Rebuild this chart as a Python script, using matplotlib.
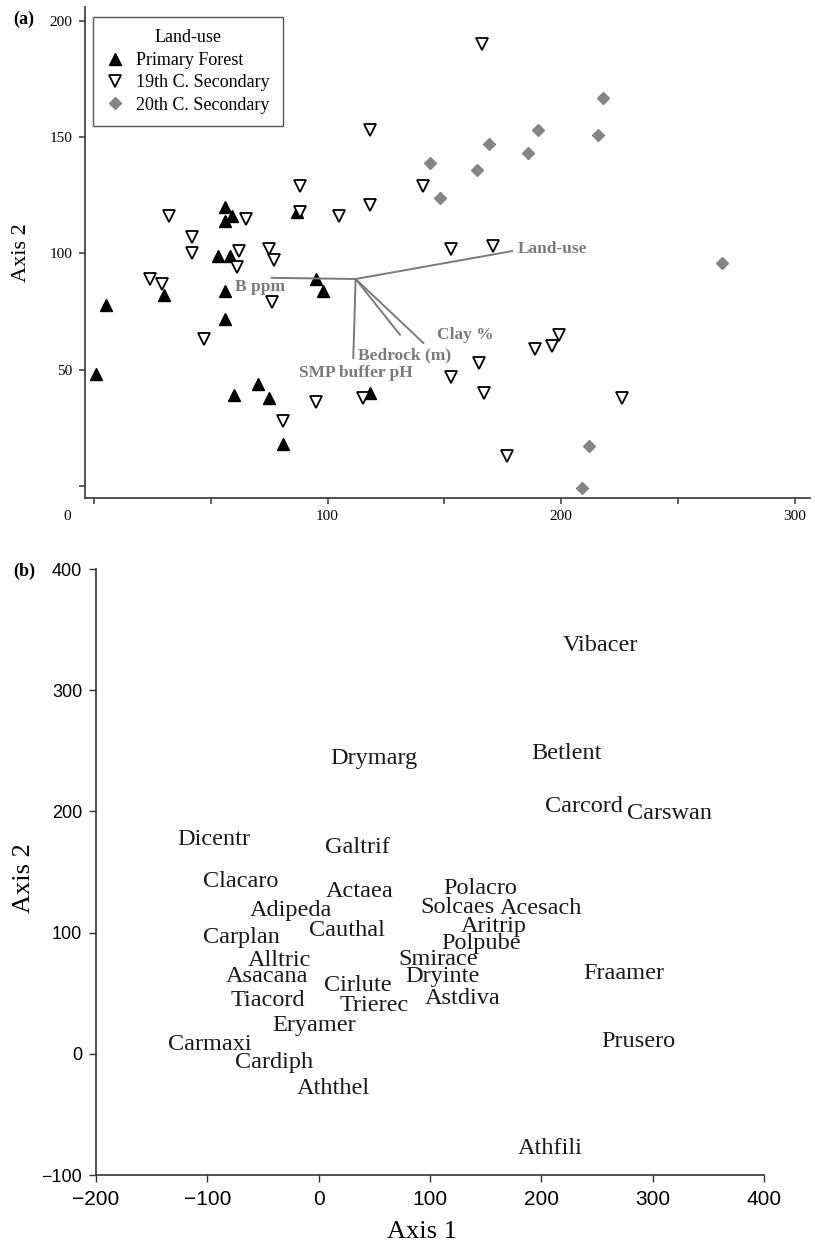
import matplotlib
matplotlib.use('Agg')
import matplotlib.pyplot as plt
import matplotlib.transforms as mtransforms

SERIF = 'Liberation Serif'
SANS = 'Liberation Sans'
plt.rcParams['font.family'] = SERIF

# ---- panel (a): site scores by land-use ----
pf_x = [1, 5, 30, 53, 58, 56, 56, 95, 98, 60, 70, 75, 81, 118, 56, 59, 56, 87]
pf_y = [48, 78, 82, 99, 99, 84, 72, 89, 84, 39, 44, 38, 18, 40, 120, 116, 114, 118]

s19_x = [118, 88, 88, 105, 118, 32, 65, 42, 42, 62, 75, 61, 77, 24, 29, 76, 47,
         95, 115, 81, 166, 141, 153, 171, 199, 196, 189, 165, 153, 167, 226, 177]
s19_y = [153, 129, 118, 116, 121, 116, 115, 107, 100, 101, 102, 94, 97, 89, 87, 79, 63,
         36, 38, 28, 190, 129, 102, 103, 65, 60, 59, 53, 47, 40, 38, 13]

s20_x = [218, 216, 190, 186, 169, 164, 144, 148, 269, 212, 209]
s20_y = [167, 151, 153, 143, 147, 136, 139, 124, 96, 17, -1]

# joint plot vectors (environmental variables)
vec_origin = (112, 89)
vec_names = ['Land-use', 'B ppm', 'SMP buffer pH', 'Bedrock (m)', 'Clay %']
vec_x = [179, 76, 111, 131, 141]
vec_y = [101, 89.5, 55, 65, 61.5]

# ---- panel (b): species scores ----
species = ['Vibacer', 'Betlent', 'Drymarg', 'Carcord', 'Carswan', 'Dicentr', 'Galtrif',
           'Clacaro', 'Actaea', 'Polacro', 'Adipeda', 'Solcaes', 'Acesach', 'Aritrip',
           'Carplan', 'Cauthal', 'Polpube', 'Alltric', 'Smirace', 'Asacana', 'Dryinte',
           'Cirlute', 'Astdiva', 'Tiacord', 'Trierec', 'Eryamer', 'Carmaxi', 'Cardiph',
           'Aththel', 'Fraamer', 'Prusero', 'Athfili']
sp_x = [253, 223, 50, 238, 315, -94, 35, -70, 37, 145, -25, 125, 200, 157,
        -69, 25, 146, -35, 107, -46, 111, 35, 129, -46, 50, -4, -98, -40,
        13, 274, 287, 208]
sp_y = [337, 248, 244, 204, 198, 177, 170, 142, 134, 136, 118, 121, 120, 105,
        96, 102, 91, 77, 78, 64, 64, 56, 46, 44, 40, 23, 8, -7,
        -29, 66, 10, -78]

W, H = 815, 1246
fig = plt.figure(figsize=(W / 100, H / 100), dpi=100)

# ---------------- panel (a) ----------------
ax1 = fig.add_axes([85 / W, 1 - 498 / H, 725 / W, 491 / H])
ax1.plot(pf_x, pf_y, ls='none', marker='^', ms=9, color='black', label='Primary Forest')
ax1.plot(s19_x, s19_y, ls='none', marker='v', ms=8.5, mfc='white', mec='black',
         mew=1.3, label='19th C. Secondary')
ax1.plot(s20_x, s20_y, ls='none', marker='D', ms=6.5, color='#858585',
         label='20th C. Secondary')

offsets = {'Land-use': ((4, 1.5), 'left'),
           'B ppm': ((-8, -6.5), 'center'),
           'SMP buffer pH': ((2, -11), 'center'),
           'Bedrock (m)': ((-30, -14.5), 'left'),
           'Clay %': ((10, 6), 'left')}
for name, vx, vy in zip(vec_names, vec_x, vec_y):
    ax1.plot([vec_origin[0], vx], [vec_origin[1], vy], color='#7a7a7a', lw=1.4)
    off, ha = offsets[name]
    ax1.annotate(name, (vx, vy), xytext=off, textcoords='offset points',
                 ha=ha, va='center', fontsize=12.5, fontweight='bold', color='#7a7a7a')

ax1.set_xlim(-3.9, 306.6)
ax1.set_ylim(-5.2, 206)
ax1.set_xticks(range(0, 301, 50))
ax1.set_xticklabels(['0', '', '100', '', '200', '', '300'])
ax1.set_yticks(range(0, 201, 50))
ax1.set_yticklabels(['', '50', '100', '150', '200'])
ax1.tick_params(direction='out', length=4, width=1.2, labelsize=11, pad=5, color='#444444')
for s in ['top', 'right']:
    ax1.spines[s].set_visible(False)
for s in ['left', 'bottom']:
    ax1.spines[s].set_linewidth(1.3)
    ax1.spines[s].set_color('#444444')
# the "0" label sits left of its tick in the original
t0 = ax1.xaxis.get_major_ticks()[0].label1
t0.set_transform(t0.get_transform() + mtransforms.ScaledTranslation(-0.27, 0, fig.dpi_scale_trans))

ax1.set_ylabel('Axis 2', fontsize=16)
ax1.yaxis.set_label_coords(-0.074, 0.5)

leg = ax1.legend(title='Land-use', loc='upper left', bbox_to_anchor=(0.011, 0.98),
                 borderaxespad=0, fontsize=13, title_fontsize=13, fancybox=False,
                 framealpha=1, edgecolor='#555555', handlelength=1.0, handletextpad=0.7,
                 labelspacing=0.3, borderpad=0.7, numpoints=1)
leg.get_frame().set_linewidth(1.0)

fig.text(13 / W, 1 - 19 / H, '(a)', fontsize=13, fontweight='bold', va='center')

# ---------------- panel (b) ----------------
ax2 = fig.add_axes([96 / W, 1 - 1175 / H, 668 / W, 606 / H])
for name, x, y in zip(species, sp_x, sp_y):
    ax2.text(x, y, name, ha='center', va='center', fontsize=17.5, color='#1a1a1a')

ax2.set_xlim(-200, 400)
ax2.set_ylim(-100, 400)
ax2.set_xticks(range(-200, 401, 100))
ax2.set_yticks(range(-100, 401, 100))
ax2.tick_params(direction='out', length=5, width=1.0, color='#333333')
ax2.tick_params(axis='x', labelsize=15, pad=6)
ax2.tick_params(axis='y', labelsize=13, pad=5)
for lab in ax2.get_xticklabels() + ax2.get_yticklabels():
    lab.set_fontfamily(SANS)
for s in ['top', 'right']:
    ax2.spines[s].set_visible(False)
for s in ['left', 'bottom']:
    ax2.spines[s].set_linewidth(1.2)
    ax2.spines[s].set_color('#333333')

ax2.set_xlabel('Axis 1', fontsize=19)
ax2.xaxis.set_label_coords(0.488, -0.076)
ax2.set_ylabel('Axis 2', fontsize=19)
ax2.yaxis.set_label_coords(-0.092, 0.49)

fig.text(13 / W, 1 - 571 / H, '(b)', fontsize=13, fontweight='bold', va='center')

fig.savefig('out.png', dpi=100)
